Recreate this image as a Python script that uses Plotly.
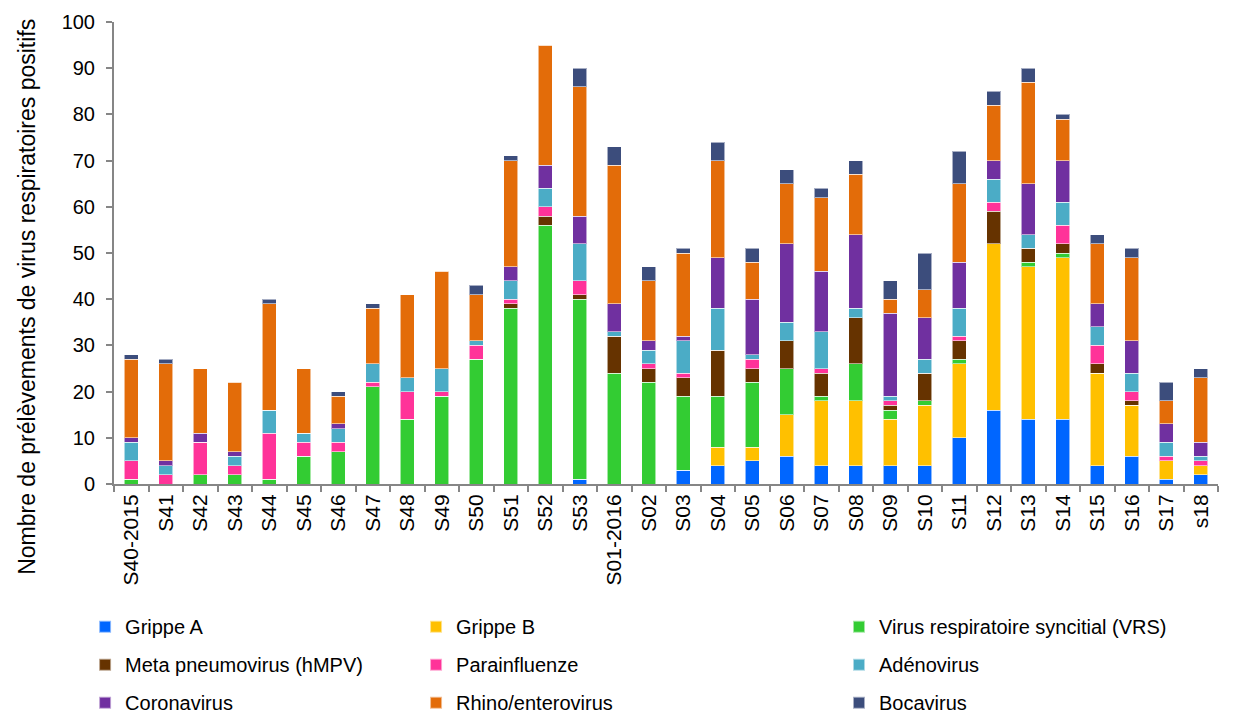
import plotly.graph_objects as go

weeks = ["S40-2015", "S41", "S42", "S43", "S44", "S45", "S46", "S47", "S48", "S49",
         "S50", "S51", "S52", "S53", "S01-2016", "S02", "S03", "S04", "S05", "S06",
         "S07", "S08", "S09", "S10", "S11", "S12", "S13", "S14", "S15", "S16", "S17", "s18"]

grippe_a = [0, 0, 0, 0, 0, 0, 0, 0, 0, 0, 0, 0, 0, 1, 0, 0, 3, 4, 5, 6, 4, 4, 4, 4, 10, 16, 14, 14, 4, 6, 1, 2]
grippe_b = [0, 0, 0, 0, 0, 0, 0, 0, 0, 0, 0, 0, 0, 0, 0, 0, 0, 4, 3, 9, 14, 14, 10, 13, 16, 36, 33, 35, 20, 11, 4, 2]
vrs      = [1, 0, 2, 2, 1, 6, 7, 21, 14, 19, 27, 38, 56, 39, 24, 22, 16, 11, 14, 10, 1, 8, 2, 1, 1, 0, 1, 1, 0, 0, 0, 0]
hmpv     = [0, 0, 0, 0, 0, 0, 0, 0, 0, 0, 0, 1, 2, 1, 8, 3, 4, 10, 3, 6, 5, 10, 1, 6, 4, 7, 3, 2, 2, 1, 0, 0]
parainf  = [4, 2, 7, 2, 10, 3, 2, 1, 6, 1, 3, 1, 2, 3, 0, 1, 1, 0, 2, 0, 1, 0, 1, 0, 1, 2, 0, 4, 4, 2, 1, 1]
adeno    = [4, 2, 0, 2, 5, 2, 3, 4, 3, 5, 1, 4, 4, 8, 1, 3, 7, 9, 1, 4, 8, 2, 1, 3, 6, 5, 3, 5, 4, 4, 3, 1]
corona   = [1, 1, 2, 1, 0, 0, 1, 0, 0, 0, 0, 3, 5, 6, 6, 2, 1, 11, 12, 17, 13, 16, 18, 9, 10, 4, 11, 9, 5, 7, 4, 3]
rhino    = [17, 21, 14, 15, 23, 14, 6, 12, 18, 21, 10, 23, 26, 28, 30, 13, 18, 21, 8, 13, 16, 13, 3, 6, 17, 12, 22, 9, 13, 18, 5, 14]
boca     = [1, 1, 0, 0, 1, 0, 1, 1, 0, 0, 2, 1, 0, 4, 4, 3, 1, 4, 3, 3, 2, 3, 4, 8, 7, 3, 3, 1, 2, 2, 4, 2]

y_title = "Nombre de prélèvements de virus respiratoires positifs"

series = [
    ("Grippe A", grippe_a, "#0066FF", "legend"),
    ("Grippe B", grippe_b, "#FFC000", "legend2"),
    ("Virus respiratoire syncitial (VRS)", vrs, "#33CC33", "legend3"),
    ("Meta pneumovirus (hMPV)", hmpv, "#663300", "legend"),
    ("Parainfluenze", parainf, "#FF3399", "legend2"),
    ("Adénovirus", adeno, "#4BACC6", "legend3"),
    ("Coronavirus", corona, "#7030A0", "legend"),
    ("Rhino/enterovirus", rhino, "#E36C09", "legend2"),
    ("Bocavirus", boca, "#3C4D7C", "legend3"),
]

FONT = "Liberation Sans, Arial, sans-serif"

fig = go.Figure()
for name, vals, color, leg in series:
    fig.add_trace(go.Bar(
        x=weeks, y=vals, name=name, legend=leg, legendgroup=name,
        marker=dict(color=color, line=dict(color="rgba(255,255,255,0.55)", width=1)),
    ))

leg_common = dict(
    orientation="v", yref="container", yanchor="top", y=0.152, xanchor="left",
    font=dict(family=FONT, size=20, color="#000000"),
    bgcolor="rgba(0,0,0,0)", traceorder="grouped", tracegroupgap=9,
    itemsizing="constant",
)

fig.update_layout(
    width=1246, height=716,
    barmode="stack", bargap=0.6,
    plot_bgcolor="white", paper_bgcolor="white",
    margin=dict(l=114, r=28, t=22, b=232, autoexpand=False),
    font=dict(family=FONT, size=20, color="#000000"),
    legend=dict(x=-0.0262, **leg_common),
    legend2=dict(x=0.2736, **leg_common),
    legend3=dict(x=0.6567, **leg_common),
    xaxis=dict(
        type="category", tickangle=-90, showgrid=False, automargin=False,
        showline=True, linecolor="#868686", linewidth=2,
        ticks="outside", tickcolor="#868686", ticklen=6, tickwidth=1.5,
        tickson="boundaries",
        tickfont=dict(family=FONT, size=21, color="#000000"),
    ),
    yaxis=dict(
        range=[0, 100], dtick=10, showgrid=False, zeroline=False, automargin=False,
        showline=True, linecolor="#868686", linewidth=2,
        ticks="outside", tickcolor="#868686", ticklen=6, tickwidth=1.5,
        ticklabelstandoff=7,
        tickfont=dict(family=FONT, size=20, color="#000000"),
    ),
    annotations=[dict(
        text=y_title, textangle=-90, showarrow=False,
        xref="paper", yref="paper", x=-0.0791, y=0.4044,
        xanchor="center", yanchor="middle",
        font=dict(family=FONT, size=23, color="#000000"),
    )],
)

fig.write_html(
    "out.html",
    config={"displayModeBar": False},
    post_script="document.body.style.margin='0';document.body.style.overflow='hidden';",
)
